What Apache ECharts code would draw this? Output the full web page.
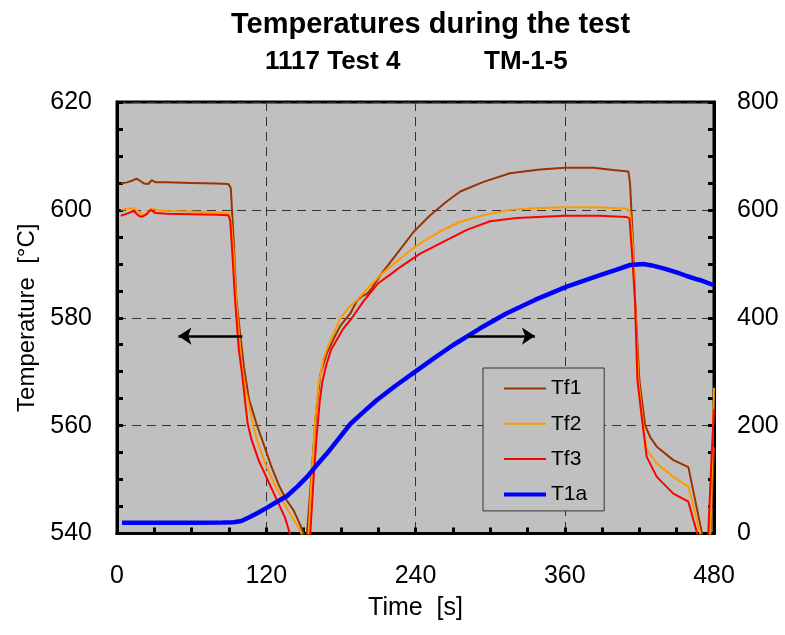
<!DOCTYPE html>
<html><head><meta charset="utf-8">
<script src="https://cdn.jsdelivr.net/npm/echarts@6/dist/echarts.min.js"></script>
<style>html,body{margin:0;padding:0;background:#fff}#c{width:785px;height:635px}</style>
</head><body><div id="c"></div>
<script>
const FONT = '"Liberation Sans", Arial, sans-serif';

// ---- data (time in s, temperature in °C; T1a on right axis) ----
const tf1Time = [3,8,12,15.7,19,21.6,25,28,31,40,60,80,89.6,91.5,93.8,96,99.5,102,104,106,112.6,118,124,130,136,142,146.5,150,151.5,152.5,152.8,156.8,160.3,163.5,168.9,174,179.5,187.6,193,197,201,205,211.7,225.1,238.4,251.8,265.3,276,294.7,316,340,360,383,399,411.2,412.5,415.2,416.5,420,424.6,428.6,434,447.3,459.4,470.1,473,476,478,480];
const tf1Temp = [604.9,605.1,605.4,605.8,605.3,604.9,604.8,605.5,605.1,605.1,605.0,604.9,604.8,604.0,594.4,583.3,576,571,568,565,560,556.5,552.5,549,546.3,544.3,542,540,532,532,540,552.4,563,569.5,573.5,576,578.5,580.8,583.2,584,584.4,585.5,587.9,591.9,595.9,599,601.6,603.4,605.2,606.8,607.5,607.8,607.8,607.4,607.1,604.9,592.6,583.3,568.5,560.1,557.9,556.1,553.6,552.3,540.3,534,534,544,556];

const tf2Time = [3,8,13.5,18.9,21.5,24,28,31,40,60,80,89.6,91.5,93.8,96,100,103,105,109,113,120,128,137,145,148.5,150.5,152.5,154.1,156.8,159.5,162,166,170,174,179.5,186,193,201,211.7,227.7,238.4,243.8,259.9,276,294.7,316,334.8,360,388,409.8,412.5,415,416.5,419.2,423.2,425.9,434,447.3,459.4,468.8,472,476,477.5,480];
const tf2Temp = [600.0,600.2,600.3,599.4,599.0,599.5,600.3,600.0,599.8,599.7,599.5,599.4,598.5,592,582.5,572,567,565,560.5,557,552.5,548.5,544.5,541.5,540,532,532,540,552,561.5,567.5,572.3,575,577,579.9,581.8,583.3,585.3,587.9,591,592.9,593.8,596,597.8,599,600,600.3,600.5,600.5,600.2,599.7,592.6,583,568.5,560.1,555.5,553,550.5,548.7,540.3,534,534,544,567];

const tf3Time = [3,8,13.5,17.5,20,24,27,31,40,60,80,89.6,91,93,95,98,100.6,103,105,108,114,122,130,135,139,142,153,155.4,158,160.5,163,165,168,172,177,182,189,198,210,219.7,227.7,243.8,259.9,281.3,300,321.5,360,388,409.8,412,413.9,416.5,418.4,422.7,425.9,434,447.3,459.4,466.1,470,474,475.4,478,480];
const tf3Temp = [598.9,599.3,599.8,598.9,598.7,599.2,600.0,599.4,599.3,599.2,599.1,599.0,598,591,583,574,569.5,564.5,560.5,557.5,553.5,549.5,545.5,543,540,532,532,540,550,558,564.5,568,571,574,576,578,580,583,586.4,588,589.4,591.9,593.8,596.3,597.9,598.5,598.9,598.9,598.7,598.4,592.6,583.3,568.5,560.1,554.2,550.5,547.4,545.9,540.3,533,533,540,554,563];

const t1aTime = [4,30,60,85,93.8,100,107.2,113,120.7,128,136.7,145,152.8,160,168.9,178,187.6,198,209,224,239.8,255,270,292,313,336,361.6,388.4,400,412.5,423.2,430,439.3,450,458.1,465,470,479.4];
const t1aVal  = [20,20,20,20.5,21,23,31,38,48,58,69.5,87,105,125,148.6,175,203,225,247.5,274,300,325,349,380.4,408,433,457.6,479.2,488,497.8,499.5,497,491.6,484,477.4,472,469,460.7];

// annotation arrows: [tStart, tEnd, level]
const arrowLeft  = [100.8, 49.4, 576.6];   // points to left axis (°C)
const arrowRight = [282.3, 336, 366];      // points to right axis

const seriesNames = ['Tf1','Tf2','Tf3','T1a'];
const seriesColors = ['#993300','#FF9900','#FF0000','#0000FF'];

const pair = (ts, vs) => ts.map((t, i) => [t, vs[i]]);

const chart = echarts.init(document.getElementById('c'), null, {renderer: 'canvas'});

const baseAxisLine = {show: true, onZero: false, lineStyle: {color: '#000', width: 3}};
const tick = {show: true, inside: true, length: 6, lineStyle: {color: '#000', width: 3}};
const minor = {show: true, splitNumber: 4, length: 6, lineStyle: {color: '#000', width: 3}};
const dash = {show: true, lineStyle: {color: '#333', type: [9, 6], width: 1}};
const lbl = {color: '#000', fontSize: 25, fontFamily: FONT};
const nameLbl = {color: '#000', fontSize: 24, fontFamily: FONT};

chart.setOption({
  animation: false,
  backgroundColor: '#fff',
  title: [
    {text: 'Temperatures during the test', left: 231, top: 10, padding: 0,
     textStyle: {fontSize: 29, fontWeight: 'bold', color: '#000', fontFamily: FONT}},
    {text: '1117 Test 4', left: 265, top: 49, padding: 0,
     textStyle: {fontSize: 26, fontWeight: 'bold', color: '#000', fontFamily: FONT}},
    {text: 'TM-1-5', left: 484, top: 49, padding: 0,
     textStyle: {fontSize: 26, fontWeight: 'bold', color: '#000', fontFamily: FONT}}
  ],
  grid: {left: 117, top: 102, width: 597, height: 431.5, show: true,
         backgroundColor: '#C0C0C0', borderColor: '#000', borderWidth: 3},
  legend: {
    orient: 'vertical', left: 483, top: 368,
    backgroundColor: '#C0C0C0', borderColor: '#333', borderWidth: 1,
    padding: [10, 17, 6, 19], itemWidth: 42, itemHeight: 14, itemGap: 14.3,
    itemStyle: {opacity: 0},
    textStyle: {fontSize: 21, color: '#000', fontFamily: FONT},
    data: [{name: 'Tf1'}, {name: 'Tf2'}, {name: 'Tf3'}, {name: 'T1a', lineStyle: {width: 4}}]
  },
  xAxis: {
    type: 'value', min: 0, max: 480, interval: 120,
    axisLine: baseAxisLine, axisTick: tick, minorTick: minor,
    axisLabel: Object.assign({margin: 30}, lbl),
    splitLine: dash,
    name: 'Time  [s]', nameLocation: 'middle', nameGap: 62,
    nameTextStyle: lbl
  },
  yAxis: [
    {type: 'value', min: 540, max: 620, interval: 20, position: 'left',
     axisLine: baseAxisLine, axisTick: tick, minorTick: minor,
     axisLabel: Object.assign({margin: 25}, lbl),
     splitLine: dash,
     name: 'Temperature  [°C]', nameLocation: 'middle', nameGap: 76,
     nameTextStyle: nameLbl},
    {type: 'value', min: 0, max: 800, interval: 200, position: 'right',
     axisLine: baseAxisLine, axisTick: tick, minorTick: minor,
     axisLabel: Object.assign({margin: 23}, lbl),
     splitLine: {show: false}}
  ],
  series: [
    {name: seriesNames[0], type: 'line', data: pair(tf1Time, tf1Temp), yAxisIndex: 0,
     symbol: 'none', lineStyle: {width: 2, color: seriesColors[0]}, itemStyle: {color: seriesColors[0]},
     silent: true,
     markLine: {silent: true, symbol: ['none', 'arrow'], symbolSize: 13,
       lineStyle: {color: '#000', width: 2.5, type: 'solid'}, label: {show: false},
       data: [[{coord: [arrowLeft[0], arrowLeft[2]]}, {coord: [arrowLeft[1], arrowLeft[2]]}]]}},
    {name: seriesNames[1], type: 'line', data: pair(tf2Time, tf2Temp), yAxisIndex: 0,
     symbol: 'none', lineStyle: {width: 2, color: seriesColors[1]}, itemStyle: {color: seriesColors[1]}, silent: true},
    {name: seriesNames[2], type: 'line', data: pair(tf3Time, tf3Temp), yAxisIndex: 0,
     symbol: 'none', lineStyle: {width: 2, color: seriesColors[2]}, itemStyle: {color: seriesColors[2]}, silent: true},
    {name: seriesNames[3], type: 'line', data: pair(t1aTime, t1aVal), yAxisIndex: 1,
     symbol: 'none', lineStyle: {width: 4.5, color: seriesColors[3]}, itemStyle: {color: seriesColors[3]}, silent: true,
     markLine: {silent: true, symbol: ['none', 'arrow'], symbolSize: 13,
       lineStyle: {color: '#000', width: 2.5, type: 'solid'}, label: {show: false},
       data: [[{coord: [arrowRight[0], arrowRight[2]]}, {coord: [arrowRight[1], arrowRight[2]]}]]}}
  ]
});
</script>
</body></html>
